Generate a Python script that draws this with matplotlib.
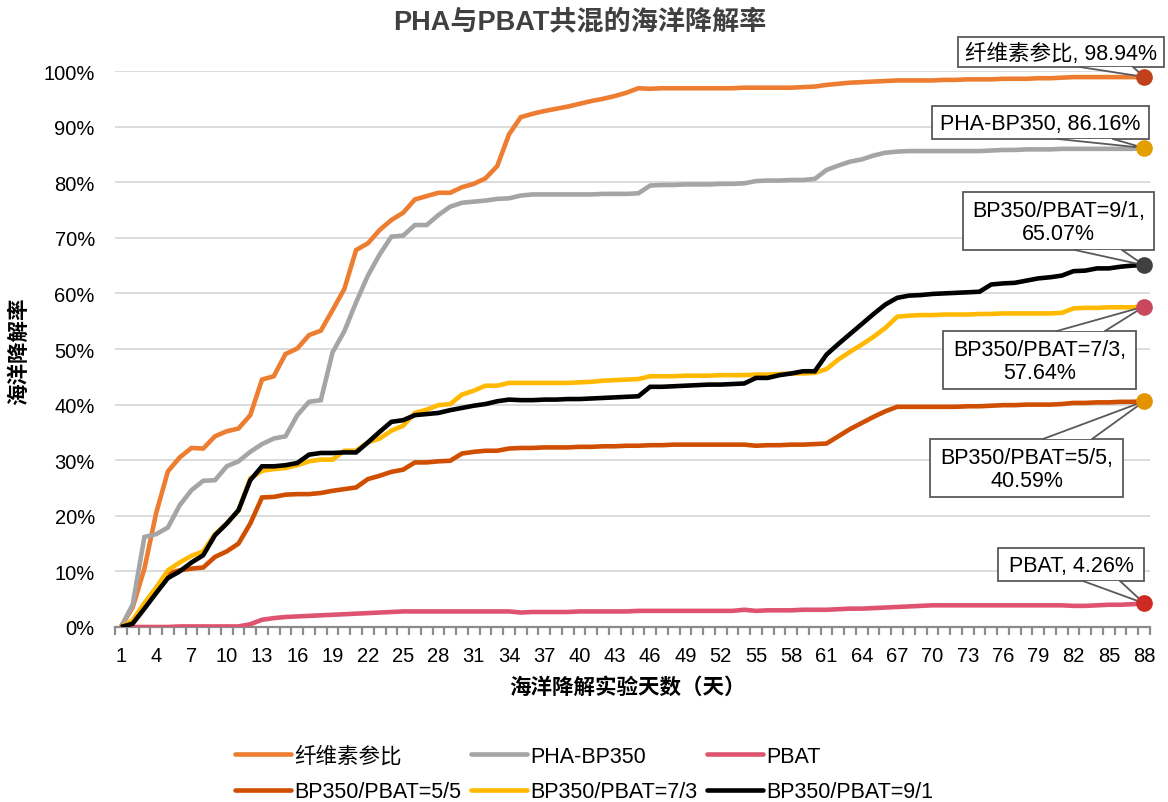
import matplotlib
matplotlib.use("Agg")
import matplotlib.pyplot as plt
from matplotlib.patches import Rectangle, Polygon
import numpy as np

plt.rcParams['font.family'] = ['Liberation Sans', 'Noto Sans CJK SC', 'DejaVu Sans']

days = list(range(1, 89))

cellulose = [0, 3.5, 10.5, 20.5, 28, 30.5, 32.2, 32.1, 34.3, 35.2,
             35.7, 38.1, 44.5, 45.1, 49.1, 50.1, 52.5, 53.3, 57, 60.8,
             67.8, 69, 71.4, 73.2, 74.5, 76.9, 77.5, 78.1, 78.1, 79.1,
             79.7, 80.7, 82.9, 88.6, 91.7, 92.3, 92.8, 93.2, 93.6, 94.1,
             94.6, 95.0, 95.5, 96.1, 96.9, 96.8, 96.9, 96.9, 96.9, 96.9,
             96.9, 96.9, 96.9, 97.0, 97.0, 97.0, 97.0, 97.0, 97.1, 97.2,
             97.5, 97.7, 97.9, 98.0, 98.1, 98.2, 98.3, 98.3, 98.3, 98.3,
             98.4, 98.4, 98.5, 98.5, 98.5, 98.6, 98.6, 98.6, 98.7, 98.7,
             98.8, 98.9, 98.9, 98.9, 98.9, 98.9, 98.9, 98.94]

pha_bp350 = [0, 4, 16.2, 16.7, 17.9, 21.9, 24.6, 26.3, 26.4, 28.9,
             29.8, 31.5, 32.9, 33.9, 34.3, 38.1, 40.5, 40.8, 49.4, 53.2,
             58.4, 63.2, 67, 70.2, 70.4, 72.3, 72.3, 74.1, 75.6, 76.3,
             76.5, 76.7, 77.0, 77.1, 77.6, 77.8, 77.8, 77.8, 77.8, 77.8,
             77.8, 77.9, 77.9, 77.9, 78.0, 79.4, 79.5, 79.5, 79.6, 79.6,
             79.6, 79.7, 79.7, 79.8, 80.2, 80.3, 80.3, 80.4, 80.4, 80.6,
             82.2, 83.0, 83.7, 84.1, 84.8, 85.3, 85.5, 85.6, 85.6, 85.6,
             85.6, 85.6, 85.6, 85.6, 85.7, 85.8, 85.8, 85.9, 85.9, 85.9,
             86.0, 86.0, 86.0, 86.0, 86.0, 86.0, 86.0, 86.16]

pbat = [0, 0, 0, 0, 0, 0.1, 0.1, 0.1, 0.1, 0.1,
        0.1, 0.5, 1.3, 1.6, 1.8, 1.9, 2.0, 2.1, 2.2, 2.3,
        2.4, 2.5, 2.6, 2.7, 2.8, 2.8, 2.8, 2.8, 2.8, 2.8,
        2.8, 2.8, 2.8, 2.8, 2.6, 2.7, 2.7, 2.7, 2.7, 2.8,
        2.8, 2.8, 2.8, 2.8, 2.9, 2.9, 2.9, 2.9, 2.9, 2.9,
        2.9, 2.9, 2.9, 3.1, 2.9, 3.0, 3.0, 3.0, 3.1, 3.1,
        3.1, 3.2, 3.3, 3.3, 3.4, 3.5, 3.6, 3.7, 3.8, 3.9,
        3.9, 3.9, 3.9, 3.9, 3.9, 3.9, 3.9, 3.9, 3.9, 3.9,
        3.9, 3.8, 3.8, 3.9, 4.0, 4.0, 4.1, 4.26]

bp_55 = [0, 0.9, 4.0, 6.7, 9.6, 10.2, 10.5, 10.7, 12.6, 13.6,
         15.0, 18.6, 23.3, 23.4, 23.8, 23.9, 23.9, 24.1, 24.5, 24.8,
         25.1, 26.6, 27.2, 27.9, 28.3, 29.6, 29.6, 29.8, 29.9, 31.2,
         31.5, 31.7, 31.7, 32.1, 32.2, 32.2, 32.3, 32.3, 32.3, 32.4,
         32.4, 32.5, 32.5, 32.6, 32.6, 32.7, 32.7, 32.8, 32.8, 32.8,
         32.8, 32.8, 32.8, 32.8, 32.6, 32.7, 32.7, 32.8, 32.8, 32.9,
         33.0, 34.3, 35.6, 36.7, 37.8, 38.8, 39.6, 39.6, 39.6, 39.6,
         39.6, 39.6, 39.7, 39.7, 39.8, 39.9, 39.9, 40.0, 40.0, 40.0,
         40.1, 40.3, 40.3, 40.4, 40.4, 40.5, 40.5, 40.59]

bp_73 = [0, 1.2, 4.3, 7.1, 10.2, 11.6, 12.8, 13.6, 16.7, 18.6,
         21.0, 26.7, 28.1, 28.4, 28.6, 29.1, 29.8, 30.1, 30.1, 31.7,
         31.7, 33.2, 33.9, 35.3, 36.2, 38.5, 39.1, 39.9, 40.1, 41.8,
         42.5, 43.4, 43.4, 43.9, 43.9, 43.9, 43.9, 43.9, 43.9, 44.0,
         44.1, 44.3, 44.4, 44.5, 44.6, 45.1, 45.1, 45.1, 45.2, 45.2,
         45.2, 45.3, 45.3, 45.3, 45.4, 45.4, 45.5, 45.6, 45.6, 45.7,
         46.4, 48.1, 49.5, 50.8, 52.2, 53.8, 55.8, 56.0, 56.1, 56.1,
         56.2, 56.2, 56.2, 56.3, 56.3, 56.4, 56.4, 56.4, 56.4, 56.4,
         56.5, 57.3, 57.4, 57.4, 57.5, 57.5, 57.5, 57.64]

bp_91 = [0, 0.6, 3.3, 6.1, 8.8, 10.0, 11.6, 12.9, 16.5, 18.6,
         21.0, 26.4, 28.9, 28.9, 29.1, 29.5, 31.0, 31.3, 31.3, 31.4,
         31.4, 33.2, 35.1, 36.9, 37.2, 38.1, 38.3, 38.5, 39.0, 39.4,
         39.8, 40.1, 40.6, 40.9, 40.8, 40.8, 40.9, 40.9, 41.0, 41.0,
         41.1, 41.2, 41.3, 41.4, 41.5, 43.2, 43.2, 43.3, 43.4, 43.5,
         43.6, 43.6, 43.7, 43.8, 44.8, 44.8, 45.3, 45.6, 46.0, 46.0,
         49.0, 50.9, 52.7, 54.5, 56.3, 58.0, 59.2, 59.6, 59.7, 59.9,
         60.0, 60.1, 60.2, 60.3, 61.6, 61.8, 61.9, 62.3, 62.7, 62.9,
         63.2, 64.0, 64.1, 64.5, 64.5, 64.8, 65.0, 65.07]

series_names = ['纤维素参比', 'PHA-BP350', 'PBAT',
                'BP350/PBAT=5/5', 'BP350/PBAT=7/3', 'BP350/PBAT=9/1']
series_values = [cellulose, pha_bp350, pbat, bp_55, bp_73, bp_91]
line_colors = ['#ED7D31', '#A5A5A5', '#DE5470', '#D04E00', '#FFB900', '#000000']
end_marker_colors = ['#C0421A', '#E39E00', '#CC2A22', '#E39300', '#C9485E', '#404040']
end_labels = ['纤维素参比, 98.94%', 'PHA-BP350, 86.16%', 'PBAT, 4.26%',
              'BP350/PBAT=5/5,\n40.59%', 'BP350/PBAT=7/3,\n57.64%', 'BP350/PBAT=9/1,\n65.07%']

title = 'PHA与PBAT共混的海洋降解率'
xlabel = '海洋降解实验天数（天）'
ylabel = '海洋降解率'

W, H = 1168, 803
fig = plt.figure(figsize=(W / 100, H / 100), dpi=100)
L, R, B, T = 115, 1150, 628, 72
ax = fig.add_axes([L / W, 1 - B / H, (R - L) / W, (B - T) / H])

handles = []
for name, vals, col in zip(series_names, series_values, line_colors):
    h, = ax.plot(days, vals, color=col, lw=3.3, solid_joinstyle='miter',
                 solid_capstyle='butt', label=name, zorder=3)
    handles.append(h)

ax.set_xlim(0.5, 88.5)
ax.set_ylim(0, 100)
ax.set_yticks(np.arange(0, 101, 10))
ax.set_yticklabels([f'{v}%' for v in range(0, 101, 10)])
ax.set_xticks(days[::3])
ax.set_xticks(np.arange(0.5, 89, 1), minor=True)
ax.tick_params(axis='x', which='major', length=0, pad=14, labelsize=14.5)
ax.tick_params(axis='x', which='minor', length=6, width=1.6, color='#8C8C8C', direction='out')
ax.tick_params(axis='y', length=0, pad=14.5, labelsize=14.5)
ax.grid(axis='y', color='#D9D9D9', lw=1.3, zorder=0)
for s in ['left', 'right', 'top']:
    ax.spines[s].set_visible(False)
ax.spines['bottom'].set_color('#8C8C8C')
ax.spines['bottom'].set_linewidth(1.6)
ax.set_axisbelow(True)

fig.text(580 / W, 1 - 22 / H, title, ha='center', va='center', fontsize=19.5,
         fontweight='bold', color='#404040')
fig.text(627 / W, 1 - 688 / H, xlabel, ha='center', va='center', fontsize=15.5,
         fontweight='bold', color='#000000')
fig.text(20 / W, 1 - 351 / H, ylabel, ha='center', va='center', fontsize=15.5,
         fontweight='bold', rotation=90, color='#000000')

# legend is filled column by column; reorder so rows read like the reference
ncol = 3
nrow = 2
order = [r * ncol + c for c in range(ncol) for r in range(nrow)]
leg = fig.legend(handles=[handles[i] for i in order],
                 labels=[series_names[i] for i in order], ncol=ncol, loc='center',
                 bbox_to_anchor=(584 / W, 1 - 775 / H), frameon=False,
                 fontsize=15.5, handlelength=2.6, handletextpad=0.15,
                 columnspacing=0.45, labelspacing=0.66)
for lh in leg.get_lines():
    lh.set_linewidth(3.3)
    lh.set_solid_capstyle('round')

# overlay in pixel coordinates for callout labels
ov = fig.add_axes([0, 0, 1, 1], facecolor='none')
ov.set_xlim(0, W)
ov.set_ylim(H, 0)
ov.axis('off')

# box layout: (left, top, right, bottom), callout base x1, x2, attach side
box_layout = [
    ((958, 38, 1164, 68), (1080, 1133), 'bottom'),
    ((932, 107, 1149, 140), (1058, 1113), 'bottom'),
    ((998, 549, 1144, 582), (1083, 1120), 'bottom'),
    ((930, 440, 1123, 498), (1043, 1092), 'top'),
    ((943, 332, 1136, 390), (1057, 1105), 'top'),
    ((963, 193, 1154, 251), (1075, 1122), 'bottom'),
]

fig.canvas.draw()
for vals, mcol, lab, (box, bx, side) in zip(series_values, end_marker_colors, end_labels, box_layout):
    px, py = ax.transData.transform((days[-1], vals[-1]))
    py = H - py
    l, t, r, b = box
    ov.add_patch(Rectangle((l, t), r - l, b - t, facecolor='white',
                           edgecolor='#595959', lw=1.3, zorder=5))
    ey = b if side == 'bottom' else t
    ov.add_patch(Polygon([(bx[0], ey), (px, py), (bx[1], ey)], closed=False,
                         facecolor='white', edgecolor='none', zorder=6))
    ov.plot([bx[0], px, bx[1]], [ey, py, ey], color='#595959', lw=1.3, zorder=7)
    ov.text((l + r) / 2, (t + b) / 2 + 1, lab, ha='center', va='center',
            fontsize=15.5, color='#000000', zorder=8, linespacing=1.1)
    ov.plot([px], [py], 'o', ms=11, color=mcol, zorder=9)

fig.savefig('out.png', dpi=100)
